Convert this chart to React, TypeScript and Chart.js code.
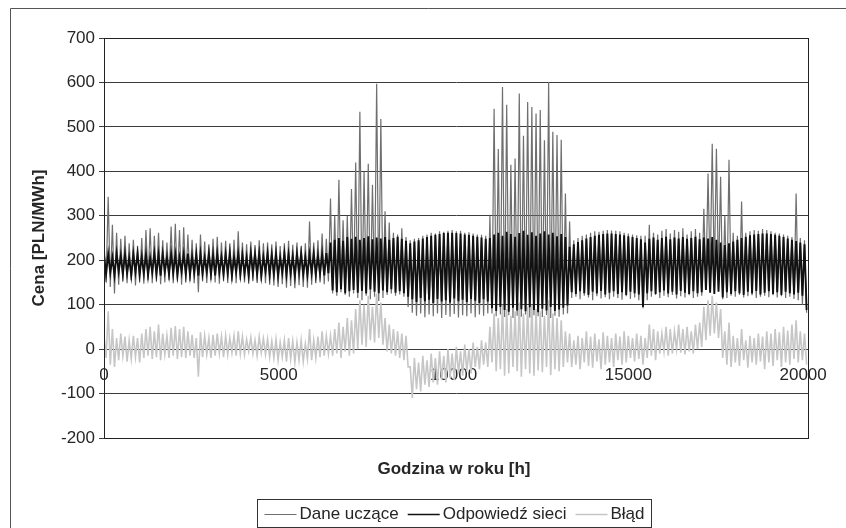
import { useEffect, useRef } from "react";
import { Chart, registerables } from "chart.js";

Chart.register(...registerables);

// Hourly price series sampled every SAMPLE_STEP_H hours: each sample holds the
// upper value (at the start of the window) and the lower value (half a step later).
const SAMPLE_STEP_H = 120;

const SERIES_NAMES = ["Dane uczące", "Odpowiedź sieci", "Błąd"];
const X_TITLE = "Godzina w roku [h]";
const Y_TITLE = "Cena [PLN/MWh]";
const X_TICKS = [0, 5000, 10000, 15000, 20000];
const Y_MIN = -200;
const Y_MAX = 700;
const Y_STEP = 100;
const X_MAX = 20140;

// Dane uczące (training data)
const trainHi = [
  240, 343, 280, 262, 248, 255, 238, 246, 232, 250,
  268, 272, 255, 262, 245, 240, 276, 282, 268, 274,
  258, 246, 238, 258, 242, 236, 248, 253, 240, 244,
  238, 246, 265, 240, 236, 242, 234, 245, 238, 240,
  236, 242, 232, 238, 244, 235, 240, 232, 238, 287,
  240, 245, 260, 248,
  339, 300, 381, 290, 300, 360, 420, 534, 399, 417, 370, 597, 518, 310, 285, 262, 258, 272, 252,
  245, 248, 250, 255, 258, 262, 260, 265, 264, 266, 268, 265, 266, 262, 263, 260, 258, 257, 255,
  300, 541, 450, 590, 550, 415, 429, 575, 480, 556, 545, 530, 538, 470, 601, 489, 482, 471, 350,
  287, 245, 250, 255, 258, 262, 265, 264, 266, 268, 267, 266, 265, 262, 260, 258, 256, 255,
  255, 280, 262, 258, 266, 270, 260, 268, 264, 272, 258, 265, 270, 262, 316, 395, 462, 451, 388,
  300, 426, 262, 255, 332, 262, 265, 268, 266, 270, 268, 265, 262, 260, 258, 255, 252, 350, 250, 245,
];
const trainLo = [
  150, 140, 125, 145, 152, 148, 155, 143, 150, 147,
  155, 148, 152, 146, 150, 155, 148, 152, 145, 150,
  153, 148, 128, 152, 149, 155, 150, 147, 153, 149,
  152, 148, 155, 150, 147, 153, 149, 152, 148, 145,
  143, 140, 146, 138, 142, 137, 144, 140, 138, 145,
  148, 150, 146, 152,
  125, 120, 128, 122, 118, 125, 115, 110, 120, 112, 118, 108, 115, 122, 125, 120, 123, 118, 95,
  82, 75, 80, 72, 78, 74, 80, 70, 77, 73, 79, 71, 76, 74, 80, 72, 78, 75, 80,
  80, 74, 78, 72, 76, 70, 75, 73, 78, 71, 76, 74, 72, 77, 70, 75, 73, 78, 80,
  115, 118, 112, 120, 116, 110, 119, 114, 117, 112, 118, 115, 111, 119, 113, 116, 110, 92,
  110, 118, 122, 115, 120, 117, 122, 114, 119, 116, 121, 115, 118, 120, 150, 160, 165, 158, 112,
  115, 120, 118, 122, 116, 119, 121, 115, 118, 120, 117, 121, 116, 119, 115, 118, 113, 110, 100, 82,
];

// Odpowiedź sieci (network output)
const respHi = [
  212, 214, 206, 215, 210, 214, 205, 213, 215, 208,
  214, 206, 215, 212, 214, 207, 215, 213, 206, 214,
  215, 209, 213, 214, 206, 215, 212, 214, 207, 213,
  215, 208, 214, 212, 206, 215, 213, 214, 207, 215,
  212, 214, 206, 215, 213, 209, 214, 215, 207, 213,
  215, 210, 214, 216,
  240, 246, 250, 244, 252, 248, 253, 246, 250, 254, 247, 251, 249, 252, 246, 250, 253, 248, 244,
  238, 242, 245, 249, 252, 255, 257, 259, 261, 262, 262, 261, 260, 258, 257, 255, 253, 251, 248,
  250, 258, 262, 255, 264, 259, 253, 261, 266, 257, 263, 255, 260, 265, 258, 262, 254, 259, 252,
  230, 236, 241, 245, 249, 252, 255, 257, 259, 260, 260, 259, 258, 256, 254, 252, 250, 247,
  240, 248, 251, 246, 250, 253, 247, 251, 249, 252, 248, 250, 253, 247, 251, 249, 252, 246, 240,
  234, 238, 242, 246, 250, 253, 256, 258, 259, 260, 260, 259, 257, 255, 252, 249, 246, 243, 240, 236,
];
const respLo = [
  168, 172, 166, 175, 169, 171, 165, 174, 168, 170,
  166, 173, 169, 165, 175, 168, 171, 166, 174, 169,
  167, 172, 165, 170, 174, 168, 166, 173, 169, 171,
  165, 174, 168, 170, 166, 172, 169, 165, 175, 168,
  170, 166, 173, 168, 171, 165, 174, 169, 167, 172,
  168, 170, 166, 171,
  132, 128, 135, 126, 130, 133, 127, 131, 125, 134, 129, 126, 132, 128, 135, 127, 130, 126, 118,
  112, 106, 115, 108, 111, 104, 113, 107, 110, 105, 114, 108, 111, 106, 113, 109, 104, 112, 107,
  92, 86, 95, 88, 84, 93, 87, 90, 85, 94, 88, 83, 91, 87, 95, 86, 89, 93, 98,
  128, 124, 130, 126, 122, 129, 125, 131, 123, 127, 130, 124, 128, 122, 129, 126, 123, 95,
  126, 130, 124, 128, 132, 125, 129, 123, 131, 127, 124, 130, 126, 128, 133, 127, 124, 129, 116,
  128, 124, 130, 126, 122, 129, 125, 131, 123, 127, 130, 124, 128, 122, 129, 126, 123, 127, 120, 88,
];

// Błąd (error)
const errHi = [
  30, 85, 45, 25, 35, 28, 20, 30, 25, 35,
  45, 50, 40, 55, 35, 30, 48, 52, 45, 50,
  40, 32, 25, 38, 30, 25, 32, 35, 28, 30,
  25, 30, 40, 28, 22, 26, 20, 28, 24, 22,
  18, 22, 15, 20, 25, 18, 15, 20, 12, 45,
  20, 28, 40, 30,
  30, 45, 60, 50, 70, 65, 90, 110, 100, 120, 95, 125, 105, 70, 55, 45, 40, 35, 30,
  -40, -20, -30, -15, -25, -10, -20, -5, -15, 0, -10, 5, -5, 10, 0, 15, 5, 20, 15,
  50, 80, 70, 100, 90, 75, 85, 105, 80, 95, 100, 90, 85, 75, 110, 80, 70, 65, 40,
  35, 20, 30, 25, 40, 28, 35, 22, 38, 30, 25, 35, 28, 40, 30, 25, 35, 30,
  25, 55, 45, 40, 35, 50, 45, 40, 55, 45, 50, 40, 55, 60, 95, 110, 120, 105, 90,
  40, 60, 30, 25, 45, 20, 30, 25, 35, 28, 40, 35, 45, 38, 50, 42, 55, 65, 40, 35,
];
const errLo = [
  -20, -35, -40, -25, -15, -28, -22, -18, -30, -20,
  -15, -22, -18, -25, -12, -20, -15, -22, -18, -20,
  -15, -20, -62, -18, -12, -20, -15, -10, -18, -12,
  -8, -15, -10, -12, -5, -10, -15, -8, -12, -18,
  -20, -25, -18, -28, -22, -30, -25, -28, -22, -25,
  -20, -18, -15, -10,
  -15, -10, -20, -5, -15, -10, 0, 10, 5, 20, 15, 25, 10, -5, -10, -15, -20, -25, -40,
  -110, -90, -95, -80, -85, -75, -80, -70, -75, -65, -70, -55, -60, -50, -55, -40, -45, -35, -40,
  -30, -50, -45, -60, -55, -40, -50, -62, -45, -55, -60, -48, -52, -40, -58, -45, -50, -40, -30,
  -40, -35, -45, -30, -38, -42, -28, -45, -35, -30, -40, -25, -35, -30, -20, -28, -22, -35,
  -20, -15, -25, -10, -5, -15, -10, 0, -8, -12, -5, -10, 0, 5, 20, 30, 35, 25, -20,
  -35, -40, -30, -38, -25, -42, -30, -35, -28, -45, -30, -38, -25, -40, -30, -35, -22, -30, -25, -35,
];

// Interleave upper and lower samples into one hourly trace.
function trace(hi: number[], lo: number[]) {
  const pts: { x: number; y: number }[] = [];
  for (let i = 0; i < hi.length; i++) {
    pts.push({ x: i * SAMPLE_STEP_H, y: hi[i] });
    pts.push({ x: i * SAMPLE_STEP_H + SAMPLE_STEP_H / 2, y: lo[i] });
  }
  return pts;
}

const FONT_FAMILY = '"Liberation Sans", Arial, Helvetica, sans-serif';
const TEXT_COLOR = "#262626";

const framePlugin = {
  id: "frame",
  beforeDraw(chart: any) {
    const { ctx, width, height } = chart;
    ctx.save();
    ctx.fillStyle = "#ffffff";
    ctx.fillRect(0, 0, width, height);
    ctx.restore();
  },
  afterDraw(chart: any) {
    const { ctx, chartArea: a, width, height } = chart;
    ctx.save();

    // plot area frame
    ctx.strokeStyle = "#222";
    ctx.lineWidth = 1;
    const l = Math.round(a.left) + 0.5;
    const t = Math.round(a.top) + 0.5;
    const r = Math.round(a.right) + 0.5;
    const b = Math.round(a.bottom) + 0.5;
    ctx.strokeRect(l, t, r - l, b - t);

    // outer chart border
    ctx.strokeStyle = "#555";
    ctx.beginPath();
    ctx.moveTo(10.5, height);
    ctx.lineTo(10.5, 8.5);
    ctx.lineTo(width, 8.5);
    ctx.stroke();

    // x axis title
    const cx = (a.left + a.right) / 2 - 2;
    ctx.fillStyle = TEXT_COLOR;
    ctx.font = `bold 17px ${FONT_FAMILY}`;
    ctx.textAlign = "center";
    ctx.textBaseline = "middle";
    ctx.fillText(X_TITLE, cx, a.bottom + 31);

    // legend
    ctx.font = `17px ${FONT_FAMILY}`;
    const sample = 32;
    const gapText = 3;
    const gapItem = 9;
    const pad = 7;
    const items = chart.data.datasets.map((ds: any) => ({
      label: ds.label as string,
      color: ds.borderColor as string,
      lw: Math.min(ds.borderWidth as number, 1.3),
      w: ctx.measureText(ds.label).width,
    }));
    const total =
      items.reduce((s: number, it: any) => s + sample + gapText + it.w, 0) +
      gapItem * (items.length - 1) +
      pad * 2;
    const boxL = Math.round(cx - total / 2) + 0.5;
    const boxT = 499.5;
    const boxH = 28;
    ctx.strokeStyle = "#333";
    ctx.lineWidth = 1;
    ctx.strokeRect(boxL, boxT, Math.round(total), boxH);
    const midY = boxT + boxH / 2;
    let x = boxL + pad;
    ctx.textAlign = "left";
    for (const it of items) {
      ctx.strokeStyle = it.color;
      ctx.lineWidth = it.lw;
      ctx.beginPath();
      ctx.moveTo(x, Math.round(midY) + 0.5);
      ctx.lineTo(x + sample, Math.round(midY) + 0.5);
      ctx.stroke();
      x += sample + gapText;
      ctx.fillStyle = TEXT_COLOR;
      ctx.fillText(it.label, x, midY + 1);
      x += it.w + gapItem;
    }
    ctx.restore();
  },
};

export default function App() {
  const canvasRef = useRef<HTMLCanvasElement | null>(null);

  useEffect(() => {
    const canvas = canvasRef.current;
    if (!canvas) return;
    Chart.defaults.font.family = FONT_FAMILY;
    Chart.defaults.color = TEXT_COLOR;

    const chart = new Chart(canvas, {
      type: "line",
      data: {
        datasets: [
          {
            label: SERIES_NAMES[0],
            data: trace(trainHi, trainLo),
            borderColor: "#6f6f6f",
            borderWidth: 1.2,
            order: 1,
          },
          {
            label: SERIES_NAMES[1],
            data: trace(respHi, respLo),
            borderColor: "#111111",
            borderWidth: 1.9,
            order: 0,
          },
          {
            label: SERIES_NAMES[2],
            data: trace(errHi, errLo),
            borderColor: "#c6c6c6",
            borderWidth: 1.6,
            order: 2,
          },
        ],
      },
      options: {
        animation: false,
        responsive: false,
        parsing: false as any,
        normalized: true,
        layout: { padding: { top: 38, right: 38, bottom: 90, left: 0 } },
        elements: { point: { radius: 0 }, line: { tension: 0 } },
        plugins: { legend: { display: false }, tooltip: { enabled: false } },
        scales: {
          x: {
            type: "linear",
            position: { y: 0 } as any,
            min: 0,
            max: X_MAX,
            afterBuildTicks: (scale: any) => {
              scale.ticks = X_TICKS.map((v) => ({ value: v }));
            },
            ticks: {
              includeBounds: false,
              padding: 16,
              maxRotation: 0,
              font: { size: 17 },
              color: TEXT_COLOR,
              callback: (v: any) => String(v),
            },
            grid: { display: false, drawTicks: false },
            border: { display: false },
          },
          y: {
            type: "linear",
            min: Y_MIN,
            max: Y_MAX,
            afterFit: (scale: any) => {
              scale.width = 104;
            },
            ticks: {
              stepSize: Y_STEP,
              padding: 4,
              font: { size: 17 },
              color: TEXT_COLOR,
            },
            grid: { color: "#3c3c3c", lineWidth: 1, tickLength: 5 },
            border: { color: "#222", width: 1 },
            title: {
              display: true,
              text: Y_TITLE,
              font: { size: 17, weight: "bold" },
              color: TEXT_COLOR,
              padding: { top: 29, bottom: 0 },
            },
          },
        },
      },
      plugins: [framePlugin],
    });
    return () => chart.destroy();
  }, []);

  return (
    <div style={{ position: "fixed", left: 0, top: 0, width: 846, height: 528 }}>
      <canvas ref={canvasRef} width={846} height={528} />
    </div>
  );
}
